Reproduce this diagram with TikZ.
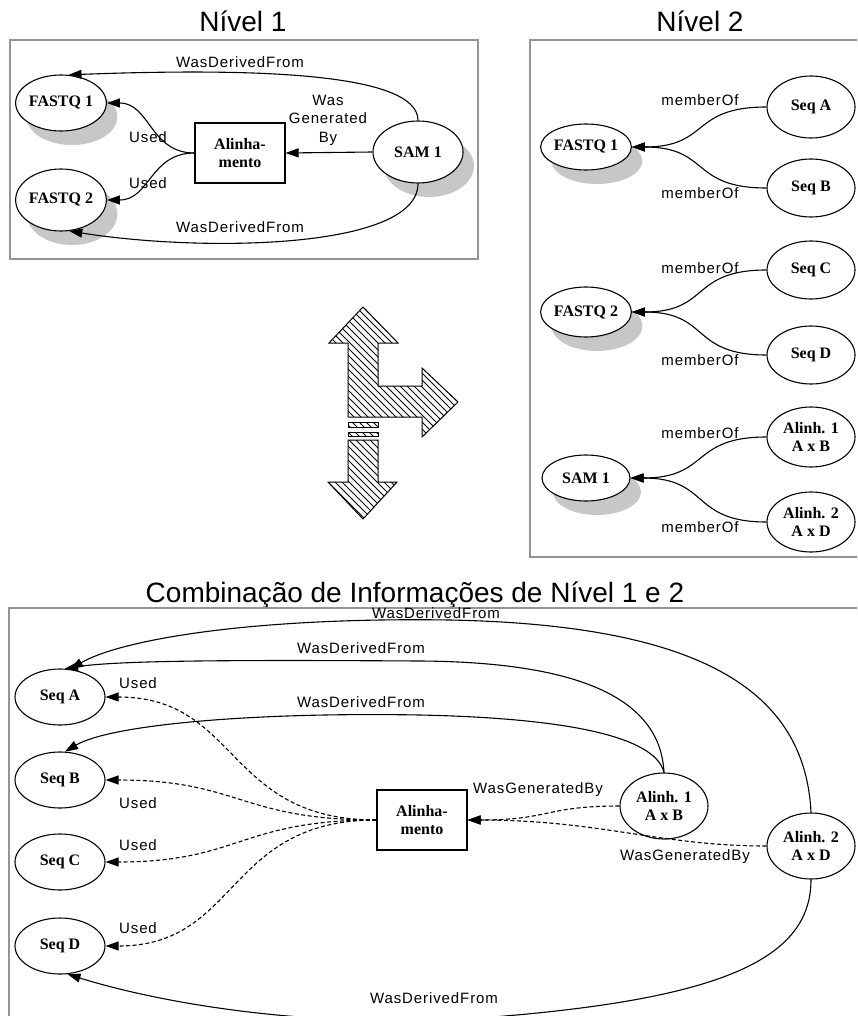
\documentclass[tikz,border=0pt]{standalone}
\usepackage{fontspec}
\setmainfont{Liberation Serif}
\newfontfamily\edgefont[LetterSpace=6]{Liberation Sans}
\newfontfamily\headfont{Liberation Sans}
\usetikzlibrary{shapes.geometric,arrows.meta,shadows}

\begin{document}
\begin{tikzpicture}[x=1pt,y=-1pt,
  ent/.style={ellipse, draw, line width=1.1pt, fill=white, inner sep=0pt,
    minimum width=90pt, minimum height=56pt, align=center,
    font=\fontsize{16}{18.5}\selectfont\bfseries},
  shd/.style={drop shadow={shadow xshift=11pt, shadow yshift=-14pt,
    fill=black!22, opacity=1}},
  act/.style={rectangle, draw, line width=1.1pt, fill=white, inner sep=0pt,
    minimum width=90pt, minimum height=60pt, align=center,
    font=\fontsize{16}{18.5}\selectfont\bfseries},
  lbl/.style={font=\edgefont\fontsize{15}{18.5}\selectfont, inner sep=0pt, align=center},
  head/.style={font=\headfont\fontsize{28}{32}\selectfont, inner sep=0pt, anchor=base},
  edge/.style={line width=1.1pt, -{Triangle[length=13pt,width=9pt]}},
  dedge/.style={edge, dash pattern=on 4pt off 2.5pt},
  panel/.style={draw=black!42, line width=1.3pt},
  hatchline/.style={line width=0.8pt},
  outline/.style={line width=1pt, line join=miter}
]
\clip (0,0) rectangle (857,1016);

% ---------- headings ----------
\node[head] (t1) at (243,32) {Nível 1};
\node[head] (t2) at (700,32) {Nível 2};
\node[head] (t3) at (415,602) {Combinação de Informações de Nível 1 e 2};

% ---------- frames ----------
\draw[panel] (10,40) rectangle (478,259);
\draw[panel] (530,40) rectangle (880,557);
\draw[panel] (9,608) rectangle (880,1040);

% ---------- level 1 ----------
\node[ent,shd] (a1) at (61,103) {FASTQ 1};
\node[ent,shd,minimum height=62pt] (a2) at (61,200) {FASTQ 2};
\node[act] (a3) at (240,153) {Alinha-\\mento};
\node[ent,shd,minimum height=62pt] (a4) at (418,152) {SAM 1};

\draw[edge] (a4.north) .. controls (418,72) and (250,68) .. (a1.75);
\draw[edge] (a4.south) .. controls (418,250) and (200,252) .. (a2.285);
\draw[edge] (a4.west) -- (a3.east);
\draw[edge] (a3.west) .. controls (150,153) and (150,103) .. (a1.east);
\draw[edge] (a3.west) .. controls (150,153) and (150,200) .. (a2.east);

\node[lbl] (la1) at (240,62) {WasDerivedFrom};
\node[lbl] (la2) at (240,227) {WasDerivedFrom};
\node[lbl] (la3) at (328,120) {Was\\Generated\\By};
\node[lbl] (la4) at (148,137) {Used};
\node[lbl] (la5) at (148,183) {Used};

% ---------- level 2 ----------
\node[ent,shd,minimum width=88pt,minimum height=46pt] (b1) at (586,147) {FASTQ 1};
\node[ent,shd,minimum width=88pt,minimum height=50pt] (b2) at (586,312) {FASTQ 2};
\node[ent,shd,minimum width=88pt,minimum height=46pt] (b3) at (586,478) {SAM 1};
\node[ent,minimum width=88pt,minimum height=62pt] (sA) at (811,107) {Seq A};
\node[ent,minimum width=88pt,minimum height=58pt] (sB) at (811,188) {Seq B};
\node[ent,minimum width=88pt,minimum height=58pt] (sC) at (811,270) {Seq C};
\node[ent,minimum width=88pt,minimum height=58pt] (sD) at (811,355) {Seq D};
\node[ent,minimum width=88pt,minimum height=60pt] (s1) at (811,437) {Alinh. 1\\A x B};
\node[ent,minimum width=88pt,minimum height=60pt] (s2) at (811,522) {Alinh. 2\\A x D};

\draw[edge] (sA.west) .. controls (690,107) and (710,147) .. (b1.east);
\draw[edge] (sB.west) .. controls (690,188) and (710,147) .. (b1.east);
\draw[edge] (sC.west) .. controls (690,270) and (710,312) .. (b2.east);
\draw[edge] (sD.west) .. controls (690,355) and (710,312) .. (b2.east);
\draw[edge] (s1.west) .. controls (690,437) and (710,478) .. (b3.east);
\draw[edge] (s2.west) .. controls (690,522) and (710,478) .. (b3.east);

\node[lbl] (lb1) at (700,100) {memberOf};
\node[lbl] (lb2) at (700,193) {memberOf};
\node[lbl] (lb3) at (700,268) {memberOf};
\node[lbl] (lb4) at (700,360) {memberOf};
\node[lbl] (lb5) at (700,433) {memberOf};
\node[lbl] (lb6) at (700,527) {memberOf};

% ---------- transition arrows ----------
\begin{scope}
  \clip (363,307) -- (398,343) -- (378,343) -- (378,386) -- (422,386) -- (422,368)
        -- (458,402) -- (422,437) -- (422,417) -- (348,417) -- (348,343) -- (329,343) -- cycle
        (348,422) rectangle (378,427)
        (348,432) rectangle (378,436)
        (348,440) -- (378,440) -- (378,482) -- (397,482) -- (363,519) -- (328,482) -- (348,482) -- cycle;
  \foreach \c in {-210,-203,...,170}
    \draw[hatchline] (\c+280,280) -- (\c+540,540);
\end{scope}
\draw[outline] (363,307) -- (398,343) -- (378,343) -- (378,386) -- (422,386) -- (422,368)
        -- (458,402) -- (422,437) -- (422,417) -- (348,417) -- (348,343) -- (329,343) -- cycle;
\draw[outline] (348,422) rectangle (378,427);
\draw[outline] (348,432) rectangle (378,436);
\draw[outline] (348,440) -- (378,440) -- (378,482) -- (397,482) -- (363,519) -- (328,482) -- (348,482) -- cycle;

% ---------- combined view ----------
\node[ent] (cA) at (60,697) {Seq A};
\node[ent] (cB) at (60,780) {Seq B};
\node[ent] (cC) at (60,862) {Seq C};
\node[ent] (cD) at (60,946) {Seq D};
\node[act] (cX) at (422,820) {Alinha-\\mento};
\node[ent,minimum width=88pt,minimum height=66pt] (c1) at (664,806) {Alinh. 1\\A x B};
\node[ent,minimum width=88pt,minimum height=66pt] (c2) at (811,846) {Alinh. 2\\A x D};

\draw[edge] (c2.north) .. controls (805,690) and (700,625) .. (450,620)
            .. controls (250,617) and (120,640) .. (cA.70);
\draw[edge] (c1.north) .. controls (660,690) and (560,662) .. (420,661)
            .. controls (250,660) and (120,660) .. (cA.80);
\draw[edge] (c1.north) .. controls (655,735) and (560,718) .. (420,715)
            .. controls (250,712) and (110,725) .. (cB.80);
\draw[edge] (c2.south) .. controls (811,960) and (720,1000) .. (480,1018)
            .. controls (300,1030) and (150,1000) .. (cD.285);

\draw[dedge] (cX.west) .. controls (225,820) and (240,697) .. (cA.east);
\draw[dedge] (cX.west) .. controls (240,820) and (240,780) .. (cB.east);
\draw[dedge] (cX.west) .. controls (240,820) and (240,862) .. (cC.east);
\draw[dedge] (cX.west) .. controls (225,820) and (240,946) .. (cD.east);
\draw[dedge] (c1.west) .. controls (545,806) and (550,820) .. (cX.east);
\draw[dedge] (c2.west) .. controls (660,846) and (600,820) .. (cX.east);

\node[lbl] (lc1) at (436,613) {WasDerivedFrom};
\node[lbl] (lc2) at (361,648) {WasDerivedFrom};
\node[lbl] (lc3) at (361,702) {WasDerivedFrom};
\node[lbl] (lc4) at (434,998) {WasDerivedFrom};
\node[lbl] (lc5) at (138,683) {Used};
\node[lbl] (lc6) at (138,803) {Used};
\node[lbl] (lc7) at (138,845) {Used};
\node[lbl] (lc8) at (138,928) {Used};
\node[lbl] (lc9) at (538,790) {WasGeneratedBy};
\node[lbl] (lc10) at (685,857) {WasGeneratedBy};
\end{tikzpicture}
\end{document}
